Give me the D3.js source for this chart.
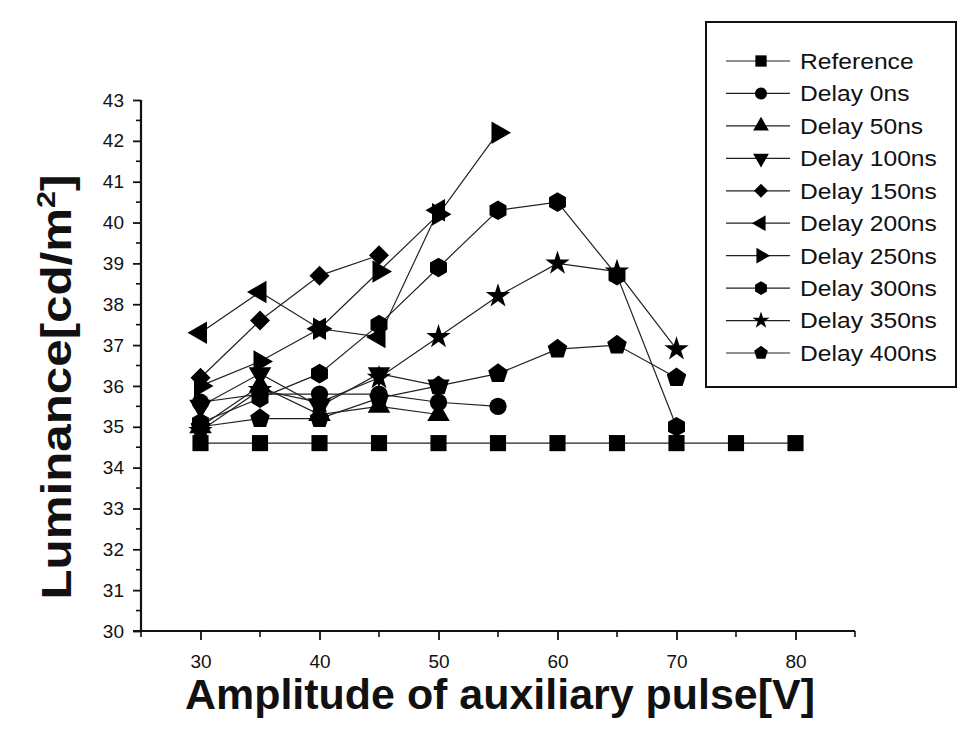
<!DOCTYPE html>
<html>
<head>
<meta charset="utf-8">
<script src="https://cdn.jsdelivr.net/npm/d3@7/dist/d3.min.js"></script>
<style>
  body { margin: 0; background: #fff; }
  svg { display: block; font-family: "Liberation Sans", Arial, sans-serif; }
</style>
</head>
<body>
<svg id="chart" width="961" height="730"></svg>
<script>
// amplitude of the auxiliary pulse (V); each series starts at 30 V
const amplitude = [30, 35, 40, 45, 50, 55, 60, 65, 70, 75, 80];

const reference = [34.6, 34.6, 34.6, 34.6, 34.6, 34.6, 34.6, 34.6, 34.6, 34.6, 34.6];
const delay0   = [35.6, 35.8, 35.8, 35.8, 35.6, 35.5];
const delay50  = [35.0, 36.0, 35.3, 35.5, 35.3];
const delay100 = [35.5, 36.3, 35.5, 36.3, 36.0];
const delay150 = [36.2, 37.6, 38.7, 39.2];
const delay200 = [37.3, 38.3, 37.4, 37.2, 40.3];
const delay250 = [36.0, 36.6, 37.4, 38.8, 40.2, 42.2];
const delay300 = [35.1, 35.7, 36.3, 37.5, 38.9, 40.3, 40.5, 38.7, 35.0];
const delay350 = [34.9, 35.9, 35.6, 36.2, 37.2, 38.2, 39.0, 38.8, 36.9];
const delay400 = [35.0, 35.2, 35.2, 35.7, 36.0, 36.3, 36.9, 37.0, 36.2];

const seriesNames = ["Reference", "Delay 0ns", "Delay 50ns", "Delay 100ns", "Delay 150ns",
  "Delay 200ns", "Delay 250ns", "Delay 300ns", "Delay 350ns", "Delay 400ns"];
const seriesValues = [reference, delay0, delay50, delay100, delay150,
  delay200, delay250, delay300, delay350, delay400];
const seriesSymbols = ["square", "circle", "up", "down", "diamond",
  "left", "right", "hexagon", "star", "pentagon"];

const xTicks = [30, 40, 50, 60, 70, 80];
const yTicks = d3.range(30, 44);

const svg = d3.select("#chart");

const x = d3.scaleLinear().domain([25, 85]).range([141, 855]);
const y = d3.scaleLinear().domain([30, 43]).range([631, 100]);

// marker shapes
const polygon = (n, r, rot) => {
  const pts = d3.range(n).map(i => {
    const a = rot + i * 2 * Math.PI / n;
    return [r * Math.sin(a), -r * Math.cos(a)];
  });
  return d3.line()(pts) + "Z";
};
function symbolPath(kind, s) {
  switch (kind) {
    case "square":  return { d: d3.symbol(d3.symbolSquare, 260 * s * s)(), rot: 0 };
    case "circle":  return { d: d3.symbol(d3.symbolCircle, 235 * s * s)(), rot: 0 };
    case "up":      return { d: d3.symbol(d3.symbolTriangle, 220 * s * s)(), rot: 0 };
    case "down":    return { d: d3.symbol(d3.symbolTriangle, 220 * s * s)(), rot: 180 };
    case "left":    return { d: d3.symbol(d3.symbolTriangle, 220 * s * s)(), rot: -90 };
    case "right":   return { d: d3.symbol(d3.symbolTriangle, 220 * s * s)(), rot: 90 };
    case "diamond": return { d: d3.symbol(d3.symbolSquare, 200 * s * s)(), rot: 45 };
    case "star":    return { d: d3.symbol(d3.symbolStar, 185 * s * s)(), rot: 0 };
    case "hexagon": return { d: polygon(6, 9.8 * s, 0), rot: 0 };
    case "pentagon":return { d: polygon(5, 10.3 * s, 0), rot: 0 };
  }
}

// axes
const ink = "#111";
const xMinor = d3.range(25, 86, 5).filter(v => v % 10 !== 0);
const yMinor = d3.range(30.5, 43, 1);

const xAxis = svg.append("g").attr("transform", `translate(0,${y(30)})`);
xAxis.call(d3.axisBottom(x).tickValues(xTicks).tickSize(9).tickPadding(15).tickFormat(d3.format("d")));
xAxis.append("g").selectAll("line").data(xMinor).join("line")
  .attr("x1", d => x(d)).attr("x2", d => x(d)).attr("y1", 0).attr("y2", 6)
  .attr("stroke", ink).attr("stroke-width", 1.6);

const yAxis = svg.append("g").attr("transform", `translate(${x(25)},0)`);
yAxis.call(d3.axisLeft(y).tickValues(yTicks).tickSize(8).tickPadding(9).tickFormat(d3.format("d")));
yAxis.append("g").selectAll("line").data(yMinor).join("line")
  .attr("x1", 0).attr("x2", -5).attr("y1", d => y(d)).attr("y2", d => y(d))
  .attr("stroke", ink).attr("stroke-width", 1.6);

[xAxis, yAxis].forEach(a => {
  a.select(".domain").attr("stroke", ink).attr("stroke-width", 2.2);
  a.selectAll(".tick line").attr("stroke", ink).attr("stroke-width", 1.8);
  a.selectAll(".tick text").attr("fill", ink).style("font-size", "19px");
});
yAxis.select(".domain").attr("d", `M0,${y(43)}V${y(30)}`);
xAxis.select(".domain").attr("d", `M${x(25) - 8},0H${x(85)}`);

// axis titles
svg.append("text")
  .attr("x", 500).attr("y", 709)
  .attr("text-anchor", "middle")
  .attr("textLength", 630).attr("lengthAdjust", "spacingAndGlyphs")
  .style("font-size", "42px").style("font-weight", "bold").attr("fill", ink)
  .text("Amplitude of auxiliary pulse[V]");

const yTitle = svg.append("text")
  .attr("transform", "translate(71,387) rotate(-90)")
  .attr("text-anchor", "middle")
  .attr("textLength", 425).attr("lengthAdjust", "spacingAndGlyphs")
  .style("font-size", "42px").style("font-weight", "bold").attr("fill", ink);
yTitle.append("tspan").text("Luminance[cd/m");
yTitle.append("tspan").attr("dy", -16).style("font-size", "26px").text("2");
yTitle.append("tspan").attr("dy", 16).text("]");

// series lines and markers
const line = d3.line().x(d => x(d[0])).y(d => y(d[1]));
const plot = svg.append("g");

seriesValues.forEach((vals, i) => {
  const pts = vals.map((v, j) => [amplitude[j], v]);
  plot.append("path").datum(pts)
    .attr("d", line).attr("fill", "none")
    .attr("stroke", "#222").attr("stroke-width", 1.2);
});
seriesValues.forEach((vals, i) => {
  const pts = vals.map((v, j) => [amplitude[j], v]);
  const sym = symbolPath(seriesSymbols[i], 1);
  plot.append("g").selectAll("path").data(pts).join("path")
    .attr("d", sym.d)
    .attr("transform", d => `translate(${x(d[0])},${y(d[1])}) rotate(${sym.rot})`)
    .attr("fill", "#000");
});

// legend
const legend = svg.append("g");
legend.append("rect")
  .attr("x", 706).attr("y", 22).attr("width", 250).attr("height", 365)
  .attr("fill", "#fff").attr("stroke", ink).attr("stroke-width", 2);

const rowY = d3.scalePoint().domain(seriesNames).range([61, 353]);
seriesNames.forEach((name, i) => {
  const g = legend.append("g").attr("transform", `translate(0,${rowY(name)})`);
  g.append("line").attr("x1", 726).attr("x2", 790).attr("y1", 0).attr("y2", 0)
    .attr("stroke", "#222").attr("stroke-width", 1.2);
  const sym = symbolPath(seriesSymbols[i], 0.7);
  g.append("path").attr("d", sym.d)
    .attr("transform", `translate(761,0) rotate(${sym.rot})`).attr("fill", "#000");
  g.append("text").attr("x", 800).attr("y", 0).attr("dy", "0.36em")
    .attr("transform", "translate(800,0) scale(1.12,1) translate(-800,0)")
    .style("font-size", "22px").attr("fill", ink)
    .text(name);
});
</script>
</body>
</html>
